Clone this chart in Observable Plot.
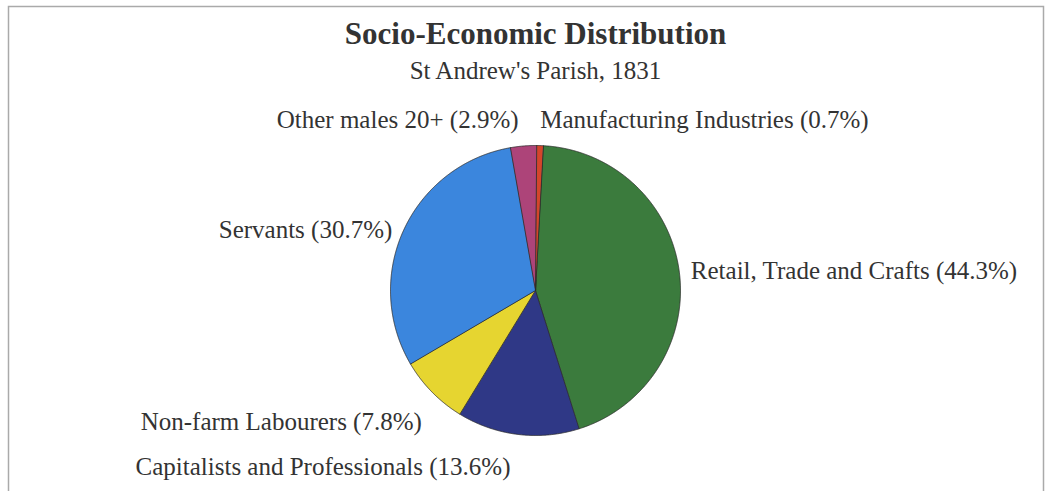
<!DOCTYPE html>
<html>
<head>
<meta charset="utf-8">
<script src="https://cdn.jsdelivr.net/npm/d3@7"></script>
<script src="https://cdn.jsdelivr.net/npm/@observablehq/plot@0.6"></script>
<style>
  html, body { margin: 0; padding: 0; background: #fff; }
  #chart svg { display: block; }
</style>
</head>
<body>
<div id="chart"></div>
<script>
// ---- data ----
const title = "Socio-Economic Distribution";
const subtitle = "St Andrew's Parish, 1831";
const categories = [
  "Retail, Trade and Crafts",
  "Capitalists and Professionals",
  "Non-farm Labourers",
  "Servants",
  "Other males 20+",
  "Manufacturing Industries"
];
const shares = [44.3, 13.6, 7.8, 30.7, 2.9, 0.7];

// ---- style / layout ----
const colors = ["#3b7b3d", "#2f3886", "#e6d530", "#3b86dd", "#ad4479", "#d4452b"];
const labelLayout = [
  {anchor: "start", dx: 0, dy: 0},
  {anchor: "end", dx: -6, dy: 21},
  {anchor: "end", dx: -2, dy: 22},
  {anchor: "end", dx: -1, dy: 5},
  {anchor: "end", dx: -4, dy: -14},
  {anchor: "start", dx: 0, dy: -14}
];
const startDeg = 3;

// ---- build slices ----
const rows = categories.map((name, i) => ({name, share: shares[i], i}));
const a0 = startDeg * Math.PI / 180;
const arcs = d3.pie().sort(null).value(d => d.share).startAngle(a0).endAngle(a0 + 2 * Math.PI)(rows);

const slicePts = [];
for (const a of arcs) {
  slicePts.push({name: a.data.name, x: 0, y: 0});
  const n = Math.max(2, Math.ceil((a.endAngle - a.startAngle) / 0.005));
  for (let k = 0; k <= n; k++) {
    const t = a.startAngle + (a.endAngle - a.startAngle) * k / n;
    slicePts.push({name: a.data.name, x: Math.sin(t), y: Math.cos(t)});
  }
}

const labelR = 1.08;
const labels = arcs.map(a => {
  const m = (a.startAngle + a.endAngle) / 2;
  const L = labelLayout[a.data.i];
  return {
    text: `${a.data.name} (${a.data.share.toFixed(1)}%)`,
    x: labelR * Math.sin(m), y: labelR * Math.cos(m),
    anchor: L.anchor, dx: L.dx, dy: L.dy
  };
});

const textStyle = {fontFamily: "'Liberation Serif', 'Times New Roman', serif", fontSize: 25, fill: "#333"};
const labelMark = anchor => labels.filter(d => d.anchor === anchor).map(d =>
  Plot.text([d], {x: "x", y: "y", text: "text", textAnchor: anchor, lineAnchor: "middle", dx: d.dx, dy: d.dy, ...textStyle})
);

const chart = Plot.plot({
  width: 1048,
  height: 491,
  marginTop: 6, marginLeft: 8, marginRight: 5, marginBottom: 0,
  x: {domain: [-1, 1], range: [390, 680], axis: null},
  y: {domain: [-1, 1], range: [435, 145], axis: null},
  color: {domain: categories, range: colors},
  style: {background: "#fff", overflow: "hidden"},
  marks: [
    Plot.frame({stroke: "#aaa", strokeWidth: 1.5, insetBottom: -6}),
    Plot.line(slicePts, {x: "x", y: "y", z: "name", fill: "name", stroke: "#2b2b2b", strokeWidth: 0.8, curve: "linear-closed"}),
    ...labelMark("start"),
    ...labelMark("end"),
    Plot.text([{t: title, x: 0}], {x: "x", text: "t", frameAnchor: "top", lineAnchor: "top", dy: 15.5,
      fontFamily: "'Liberation Serif', 'Times New Roman', serif", fontSize: 31, fontWeight: "bold", fill: "#333"}),
    Plot.text([{t: subtitle, x: 0}], {x: "x", text: "t", frameAnchor: "top", lineAnchor: "top", dy: 55, ...textStyle})
  ]
});
document.getElementById("chart").appendChild(chart);
</script>
</body>
</html>
